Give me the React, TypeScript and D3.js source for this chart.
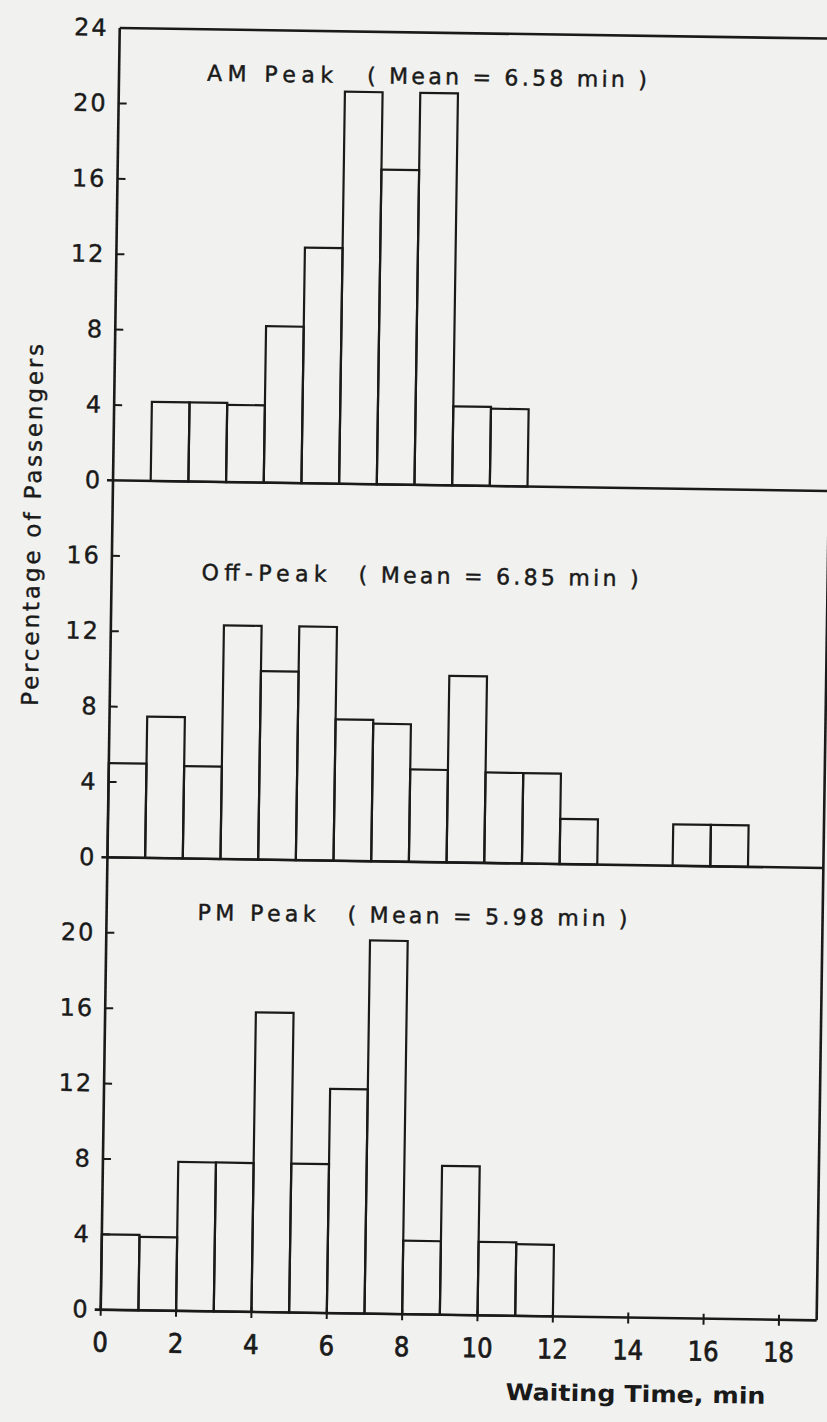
import React from "react";
import * as d3 from "d3";

// ---- data ----
const xTickValues = [0, 2, 4, 6, 8, 10, 12, 14, 16, 18];

const amBinStarts = [1, 2, 3, 4, 5, 6, 7, 8, 9, 10];
const amPercent = [4.2, 4.2, 4.1, 8.3, 12.5, 20.8, 16.7, 20.8, 4.2, 4.1];

const offBinStarts = [0, 1, 2, 3, 4, 5, 6, 7, 8, 9, 10, 11, 12, 15, 16];
const offPercent = [5.0, 7.5, 4.9, 12.4, 10.0, 12.4, 7.5, 7.3, 4.9, 9.9, 4.8, 4.8, 2.4, 2.2, 2.2];

const pmBinStarts = [0, 1, 2, 3, 4, 5, 6, 7, 8, 9, 10, 11];
const pmPercent = [4.0, 3.9, 7.9, 7.9, 15.9, 7.9, 11.9, 19.8, 3.9, 7.9, 3.9, 3.8];

const amTicks = [0, 4, 8, 12, 16, 20, 24];
const offTicks = [0, 4, 8, 12, 16];
const pmTicks = [0, 4, 8, 12, 16, 20];

const panelNames = ["AM Peak", "Off-Peak", "PM Peak"];
const panelMeans = ["6.58", "6.85", "5.98"];
const panelYMax = [24, 20, 24];

const xAxisTitle = "Waiting Time, min";
const yAxisTitle = "Percentage of Passengers";

// ---- layout ----
const W = 827;
const H = 1422;
const LEFT = 113;
const RIGHT = 829;
const TOP = 28;
const UNIT = 18.85;
const INK = "#1a1a1a";
const BG = "#f1f1ef";

// title placement per panel (y in data units, x in px)
const titleY = [21.27, 14.79, 20.75];
const titleX = [201, 203, 204];
const titleW = [126, 125, 118];
const parenX = [361, 360, 354];
const parenW = [280, 280, 280];

export default function App() {
  const x = d3.scaleLinear().domain([0, 19]).range([LEFT, RIGHT]);

  const panels = [
    { bins: amBinStarts, vals: amPercent, ticks: amTicks },
    { bins: offBinStarts, vals: offPercent, ticks: offTicks },
    { bins: pmBinStarts, vals: pmPercent, ticks: pmTicks },
  ];

  let cursor = TOP;
  const scales = panelYMax.map((m) => {
    const top = cursor;
    const base = top + m * UNIT;
    cursor = base;
    return d3.scaleLinear().domain([0, m]).range([base, top]);
  });
  const bottom = cursor;

  return (
    <svg
      width={W}
      height={H}
      style={{ position: "absolute", left: 0, top: 0, background: BG }}
      fontFamily="'DejaVu Sans', sans-serif"
    >
      <rect x={0} y={0} width={W} height={H} fill={BG} />
      <g transform="rotate(0.85 113 482)">
        {/* bars */}
        {panels.map((p, i) => {
          const y = scales[i];
          return (
            <g key={"bars" + i}>
              {p.bins.map((b, j) => (
                <rect
                  key={j}
                  x={x(b)}
                  y={y(p.vals[j])}
                  width={x(b + 1) - x(b)}
                  height={y(0) - y(p.vals[j])}
                  fill="none"
                  stroke={INK}
                  strokeWidth={2.2}
                />
              ))}
            </g>
          );
        })}

        {/* frame */}
        <line x1={LEFT} x2={LEFT} y1={TOP} y2={bottom} stroke={INK} strokeWidth={2.6} />
        <line x1={LEFT} x2={RIGHT + 2} y1={TOP} y2={TOP} stroke={INK} strokeWidth={2.6} />
        <line x1={RIGHT} x2={RIGHT} y1={TOP} y2={bottom} stroke={INK} strokeWidth={2.6} />
        {scales.map((y, i) => (
          <line key={"base" + i} x1={LEFT - 6} x2={RIGHT} y1={y(0)} y2={y(0)} stroke={INK} strokeWidth={2.6} />
        ))}

        {/* y ticks & labels */}
        {panels.map((p, i) => {
          const y = scales[i];
          return (
            <g key={"yt" + i}>
              {p.ticks.map((t) => (
                <g key={t}>
                  {t > 0 && t < panelYMax[i] && (
                    <line x1={LEFT} x2={LEFT + 8} y1={y(t)} y2={y(t)} stroke={INK} strokeWidth={2} />
                  )}
                  <text
                    x={LEFT - 11}
                    y={y(t)}
                    textAnchor="end"
                    dominantBaseline="central"
                    fontSize={24}
                    fill={INK}
                    stroke={INK}
                    strokeWidth={0.4}
                    letterSpacing={2}
                  >
                    {t}
                  </text>
                </g>
              ))}
            </g>
          );
        })}

        {/* x ticks & labels */}
        {xTickValues.map((v) => (
          <g key={"xt" + v}>
            <line x1={x(v)} x2={x(v)} y1={bottom - 5} y2={bottom + 6} stroke={INK} strokeWidth={2} />
            <text
              x={x(v)}
              y={bottom + 42}
              textAnchor="middle"
              fontSize={27}
              fill={INK}
              stroke={INK}
              strokeWidth={0.7}
              fontFamily="'Liberation Sans Narrow', 'DejaVu Sans Condensed', 'Roboto', sans-serif"
            >
              {v}
            </text>
          </g>
        ))}

        {/* panel titles */}
        {panelNames.map((n, i) => (
          <g key={"title" + i} fill={INK} stroke={INK} strokeWidth={0.45} fontSize={22}>
            <text x={titleX[i]} y={scales[i](titleY[i])} textLength={titleW[i]} lengthAdjust="spacing">
              {n}
            </text>
            <text x={parenX[i]} y={scales[i](titleY[i])} textLength={parenW[i]} lengthAdjust="spacing">
              {"( Mean = " + panelMeans[i] + " min )"}
            </text>
          </g>
        ))}

        {/* axis titles */}
        <text
          x={519}
          y={1394}
          fontSize={23}
          fontWeight={600}
          fill={INK}
          textLength={260}
          lengthAdjust="spacingAndGlyphs"
        >
          {xAxisTitle}
        </text>
        <text
          transform="translate(41 526) rotate(-90)"
          textAnchor="middle"
          fontSize={23}
          fill={INK}
          stroke={INK}
          strokeWidth={0.4}
          textLength={362}
          lengthAdjust="spacing"
        >
          {yAxisTitle}
        </text>
      </g>
    </svg>
  );
}
